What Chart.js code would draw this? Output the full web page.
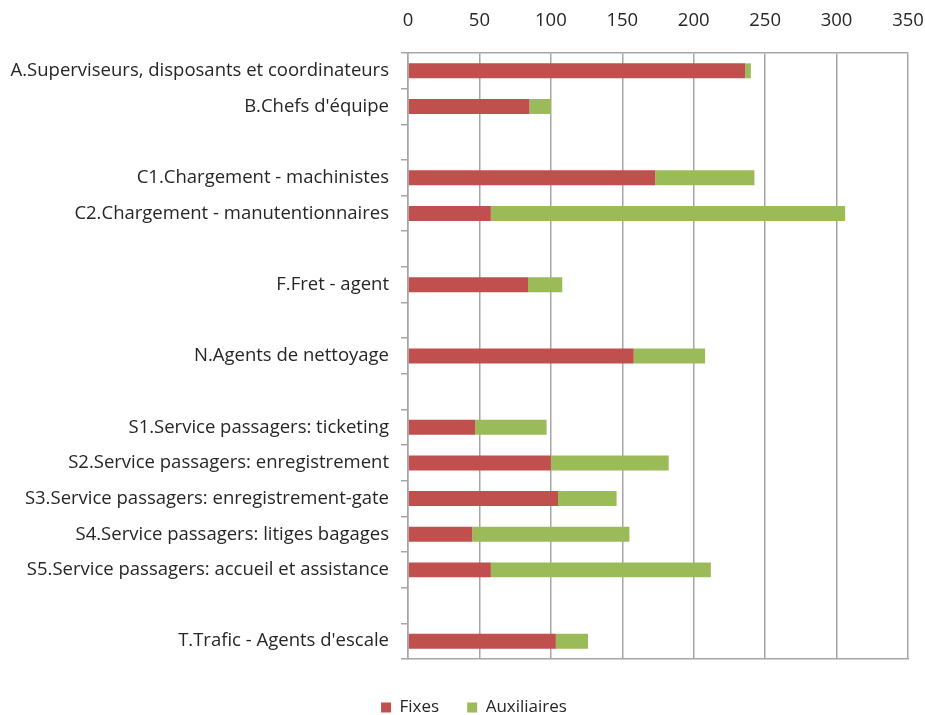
<!DOCTYPE html>
<html lang="fr">
<head>
  <meta charset="UTF-8">
  <title>Effectifs par fonction</title>
  <script src="https://cdn.jsdelivr.net/npm/chart.js"></script>
  <style>
    html, body { margin: 0; padding: 0; background: #fff; }
    #wrap { width: 925px; height: 715px; }
  </style>
</head>
<body>
  <div id="wrap"><canvas id="chart"></canvas></div>

  <script>
    // rows, including the empty spacer rows between groups
    const categories = [
      'A.Superviseurs, disposants et coordinateurs',
      "B.Chefs d'équipe",
      '',
      'C1.Chargement - machinistes',
      'C2.Chargement - manutentionnaires',
      '',
      'F.Fret - agent',
      '',
      'N.Agents de nettoyage',
      '',
      'S1.Service passagers: ticketing',
      'S2.Service passagers: enregistrement',
      'S3.Service passagers: enregistrement-gate',
      'S4.Service passagers: litiges bagages',
      'S5.Service passagers: accueil et assistance',
      '',
      "T.Trafic - Agents d'escale"
    ];
    const fixes =       [236, 85, null, 173, 58, null, 84, null, 158, null, 47, 100, 105, 45, 58, null, 103.5];
    const auxiliaires = [4, 15, null, 69.5, 248, null, 24, null, 50, null, 50, 82.5, 41, 110, 154, null, 22.5];
    const xTicks = [0, 50, 100, 150, 200, 250, 300, 350];

    const gridGray = '#a6a6a6';
    const textColor = '#262626';
    const font = { family: 'Open Sans', size: 18.5 };

    // the left padding only recentres the legend; let the long labels use that space
    const unclipLabels = {
      id: 'unclipLabels',
      afterLayout(chart) { chart.scales.y.left = 0; }
    };

    new Chart(document.getElementById('chart'), {
      type: 'bar',
      data: {
        labels: categories,
        datasets: [
          { label: 'Fixes', data: fixes, backgroundColor: '#C0504D' },
          { label: 'Auxiliaires', data: auxiliaires, backgroundColor: '#9BBB59' }
        ]
      },
      plugins: [unclipLabels],
      options: {
        indexAxis: 'y',
        responsive: true,
        maintainAspectRatio: false,
        animation: false,
        barPercentage: 0.7,
        categoryPercentage: 0.6,
        layout: { padding: { top: 8, right: 17, bottom: -11, left: 40 } },
        plugins: {
          tooltip: { enabled: false },
          legend: {
            position: 'bottom',
            labels: {
              color: textColor,
              font: { family: 'Open Sans', size: 17 },
              boxWidth: 10,
              boxHeight: 10,
              padding: 28
            }
          }
        },
        scales: {
          x: {
            position: 'top',
            stacked: true,
            min: 0,
            max: 350,
            afterBuildTicks: s => { s.ticks = xTicks.map(v => ({ value: v })); },
            afterFit: s => { s.height = 45; s.paddingLeft = 0; s.paddingRight = 0; },
            ticks: { color: textColor, font: font, padding: 21 },
            grid: { color: gridGray, lineWidth: 1.5, drawTicks: false },
            border: { color: gridGray, width: 1.5 }
          },
          xBottom: {
            position: 'bottom',
            min: 0,
            max: 350,
            afterFit: s => { s.height = 12; },
            ticks: { display: false },
            grid: { display: false },
            border: { color: gridGray, width: 1.5 }
          },
          y: {
            stacked: true,
            afterFit: s => { s.width = 368; },
            ticks: { color: textColor, font: font, padding: 12 },
            grid: { drawOnChartArea: false, tickLength: 7, color: gridGray, lineWidth: 1.5 },
            border: { color: gridGray, width: 1.5 }
          }
        }
      }
    });
  </script>
</body>
</html>
